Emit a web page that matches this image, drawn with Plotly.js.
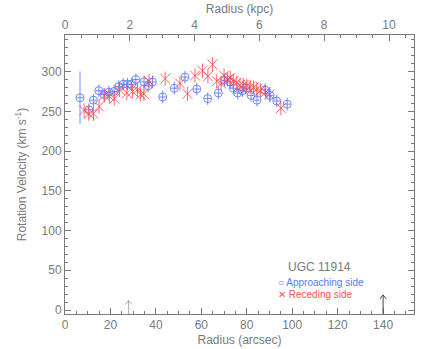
<!DOCTYPE html>
<html><head><meta charset="utf-8">
<script src="https://cdn.plot.ly/plotly-3.0.1.min.js"></script>
<style>html,body{margin:0;padding:0;background:#fff}#g{width:436px;height:349px}</style>
</head><body><div id="g"></div>
<script>
// Approaching side (blue circles)
const rApp = [6.6,10.5,12.5,14.9,17.2,19.3,21.6,23.7,25.6,27.5,29.3,31.2,34.8,36.6,38.5,43.0,48.1,52.8,58.0,62.8,67.5,70.2,72.7,74.1,76.0,78.1,79.6,81.9,84.5,88.0,90.3,93.2,97.8];
const vApp = [267,252,264,276,271,274,275,281,284,284,284,290,287,282,287,268,279,293,278,266,273,289,287,279,273,276,279,270,264,277,270,263,259];
const eApp = [33,8,8,8,8,8,8,8,8,8,8,8,8,8,8,8,8,8,8,8,8,8,8,8,8,8,8,8,8,8,8,8,8];
// Receding side (red crosses)
const rRec = [8.4,10.5,12.5,15.0,17.3,19.5,21.7,24.0,27.2,29.7,31.9,33.3,34.7,37.0,44.1,50.6,53.9,57.2,60.5,62.9,64.9,66.8,68.7,70.0,71.5,72.7,74.1,75.6,77.0,78.5,80.0,81.5,83.0,84.4,86.0,88.3,90.0,95.0];
const vRec = [251,247,247,256,270,269,266,277,273,275,277,271,272,288,291,285,272,295,301,294,309,288,285,295,290,292,288,286,283,283,282,281,280,278,276,274,271,254];
const eRec = rRec.map(()=>9);
// Arrows marking radii
const arrowR = [28,140];
const arrowH = [12,19];
const arrowCol = ['#aaaaaa','#444444'];
const kpcPerArcsec = 1/14.26;
const xMax = 153.6;

const blue = 'rgba(90,120,255,0.85)';
const red = 'rgba(255,70,70,0.8)';
const gray = '#7a7a7a';
const traces = [
 {x:rApp,y:vApp,type:'scatter',mode:'markers',
  marker:{symbol:'circle-open',size:8,color:blue,line:{width:1,color:blue}},
  error_y:{type:'data',array:eApp,visible:true,color:blue,thickness:1,width:0},
  error_x:{type:'constant',value:1.5,visible:true,color:blue,thickness:1,width:0}},
 {x:rRec,y:vRec,type:'scatter',mode:'markers',
  marker:{symbol:'x-thin-open',size:10,color:red,line:{width:1,color:red}},
  error_y:{type:'data',array:eRec,visible:true,color:red,thickness:1,width:0}},
 {x:[0],y:[-100],xaxis:'x2',type:'scatter',mode:'markers',marker:{opacity:0},hoverinfo:'skip'}
];
const shapes = arrowR.map((r,i)=>({type:'path',xref:'x',yref:'y',
  path:`M ${r},-5 L ${r},${arrowH[i]} M ${r-1.4},${arrowH[i]-5} L ${r},${arrowH[i]} L ${r+1.4},${arrowH[i]-5}`,
  line:{color:arrowCol[i],width:1}}));
const font = {family:'Liberation Sans, Arial, sans-serif',size:11,color:gray};
const layout = {
 width:436,height:349,margin:{l:65,r:22,t:35,b:35},
 paper_bgcolor:'#fff',plot_bgcolor:'#fff',showlegend:false,font:font,
 xaxis:{range:[0,xMax],dtick:20,tick0:0,ticks:'inside',ticklen:6,tickcolor:gray,
   minor:{dtick:5,ticks:'inside',ticklen:3,tickcolor:gray},
   showline:true,linecolor:gray,linewidth:1,showgrid:false,zeroline:false,
   tickfont:{size:12,color:gray},
   title:{text:'Radius (arcsec)',font:{size:12,color:gray},standoff:4}},
 xaxis2:{overlaying:'x',side:'top',anchor:'y',range:[0,xMax*kpcPerArcsec],dtick:2,tick0:0,
   ticks:'inside',ticklen:6,tickcolor:gray,
   minor:{dtick:0.5,ticks:'inside',ticklen:3,tickcolor:gray},
   showline:true,linecolor:gray,linewidth:1,showgrid:false,zeroline:false,
   tickfont:{size:12,color:gray},
   title:{text:'Radius (kpc)',font:{size:12,color:gray},standoff:2}},
 yaxis:{range:[-5,346],dtick:50,tick0:0,ticks:'inside',ticklen:6,tickcolor:gray,
   minor:{dtick:10,ticks:'inside',ticklen:3,tickcolor:gray},
   showline:true,linecolor:gray,linewidth:1,mirror:'ticks',showgrid:false,zeroline:false,
   tickfont:{size:12,color:gray},
   title:{text:'Rotation Velocity (km s<sup>-1</sup>)',font:{size:12,color:gray},standoff:12}},
 shapes:shapes,
 annotations:[
  {xref:'paper',yref:'paper',x:0.633,y:0.17,xanchor:'left',yanchor:'middle',showarrow:false,
   text:'UGC 11914',font:{size:12,color:gray}},
  {xref:'paper',yref:'paper',x:0.605,y:0.113,xanchor:'left',yanchor:'middle',showarrow:false,
   text:'○ Approaching side',font:{size:10,color:'#5a78ff'}},
  {xref:'paper',yref:'paper',x:0.605,y:0.071,xanchor:'left',yanchor:'middle',showarrow:false,
   text:'✕ Receding side',font:{size:10,color:'#ff5050'}}
 ]
};
Plotly.newPlot('g',traces,layout,{displayModeBar:false,staticPlot:true});
</script></body></html>
